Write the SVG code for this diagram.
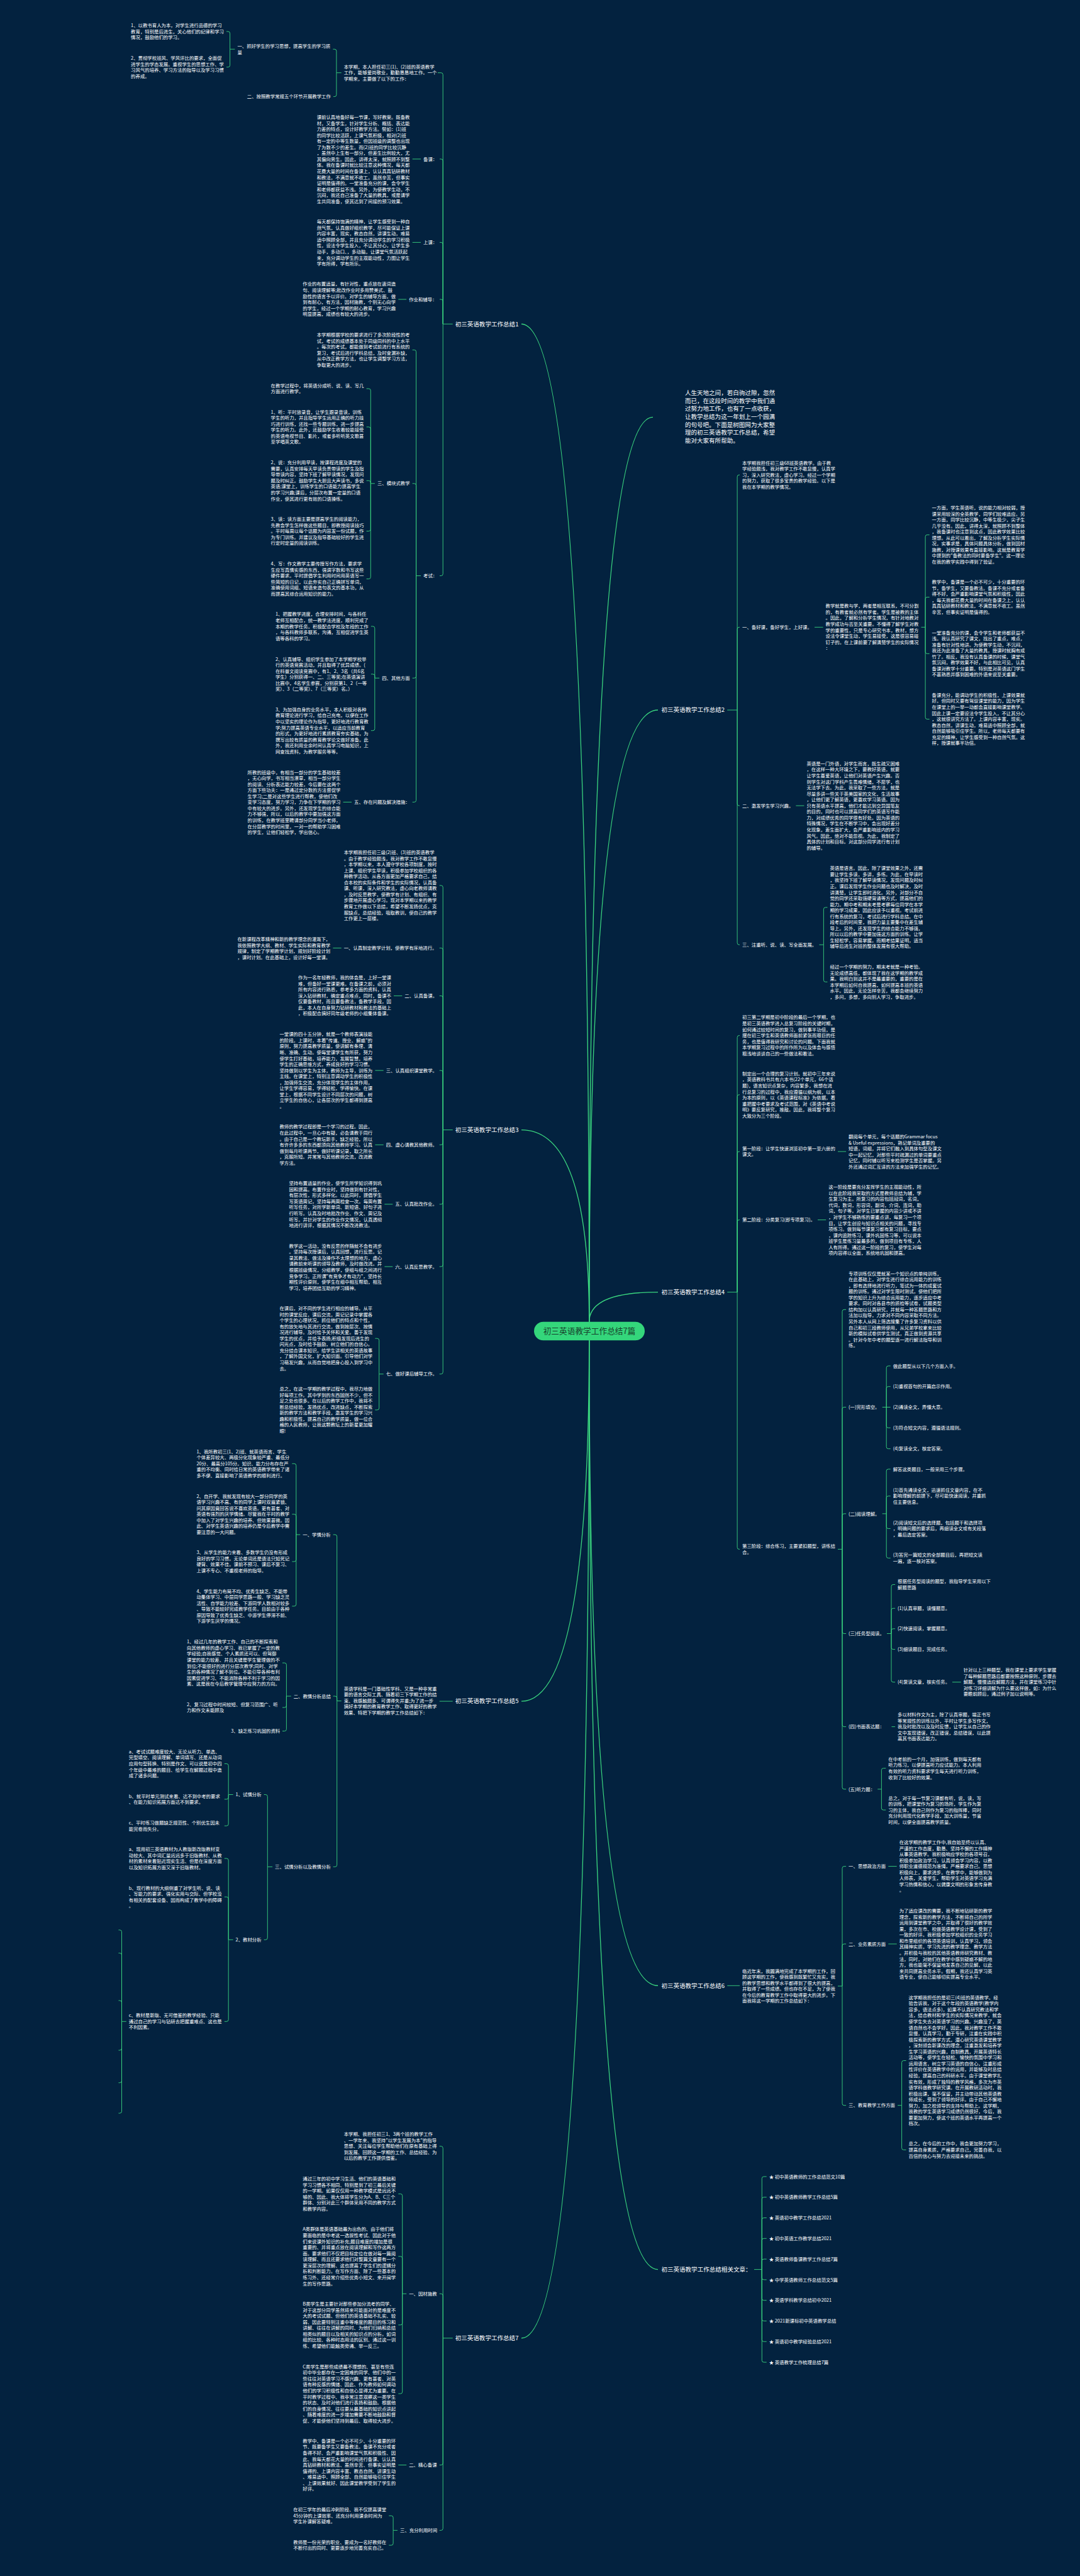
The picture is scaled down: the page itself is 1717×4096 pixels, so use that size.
<svg xmlns="http://www.w3.org/2000/svg" width="1717" height="4096" viewBox="0 0 1717 4096">
<style>
text{font-family:"Noto Sans CJK SC","Noto Sans",sans-serif;fill:#ffffff}
.t{font-size:7.4px}
.l{font-size:9.55px}
.ln{fill:none;stroke:#3ad57f;stroke-width:0.9}
.mn{fill:none;stroke:#3ad57f;stroke-width:1.4}
</style>
<rect x="0" y="0" width="1717" height="4096" fill="#03223f"/>
<g id="connectors">
<g class="mn">
<path d="M936.7 2102Q936.7 515.2 829 515.2"/>
<path d="M936.7 2102Q936.7 1796.6 829 1796.6"/>
<path d="M936.7 2131.3Q936.7 2705.1 829 2705.1"/>
<path d="M936.7 2131.3Q936.7 3717.8 829 3717.8"/>
<path d="M936.7 2102Q936.7 663.4 1038 663.4"/>
<path d="M936.7 2102Q936.7 1129 1046 1129"/>
<path d="M936.7 2102Q936.7 2054.6 1046 2054.6"/>
<path d="M936.7 2131.3Q936.7 3157.3 1046 3157.3"/>
<path d="M936.7 2131.3Q936.7 3608.6 1046 3608.6"/>
</g>
<g class="ln">
<path d="M719.7 515.2H704.2M704.2 515.2V118.7Q704.2 115.7 701.2 115.7H696M704.2 515.2V255.9Q704.2 252.9 701.2 252.9H699M704.2 515.2V388.4Q704.2 385.4 701.2 385.4H699M704.2 515.2V479Q704.2 476 701.2 476H699M704.2 515.2V912.5Q704.2 915.5 701.2 915.5H699"/>
<path d="M542.7 115.7H534.9M534.9 115.7V81.2Q534.9 78.2 531.9 78.2H529.4M534.9 115.7V150.6Q534.9 153.6 531.9 153.6H530"/>
<path d="M373.4 78.2H365.6M365.6 78.2V53.1Q365.6 50.1 362.6 50.1H360.1M365.6 78.2V103.7Q365.6 106.7 362.6 106.7H360.1"/>
<path d="M669 252.9H655.7M669 385.4H655.7M646.2 476H633.3"/>
<path d="M669 915.5H661.6M661.6 915.5V559.4Q661.6 556.4 658.6 556.4H655.7M661.6 915.5V771.8Q661.6 768.8 658.6 768.8H655.7M661.6 915.5V1075.2Q661.6 1078.2 658.6 1078.2H655.7M661.6 915.5V1272.4Q661.6 1275.4 658.6 1275.4H655.7"/>
<path d="M595.9 768.8H589.3M589.3 768.8V621Q589.3 618 586.3 618H582.6M589.3 768.8V681.9Q589.3 678.9 586.3 678.9H582.6M589.3 768.8V767.3Q589.3 764.3 586.3 764.3H582.6M589.3 768.8V841.5Q589.3 844.5 586.3 844.5H582.6M589.3 768.8V917.5Q589.3 920.5 586.3 920.5H582.6"/>
<path d="M603.2 1078.2H595.8M595.8 1078.2V998.9Q595.8 995.9 592.8 995.9H589.9M595.8 1078.2V1074.9Q595.8 1071.9 592.8 1071.9H589.9M595.8 1078.2V1158.7Q595.8 1161.7 592.8 1161.7H589.9"/>
<path d="M559 1275.4H545.6"/>
<path d="M719.7 1796.6H704.2M704.2 1796.6V1410.9Q704.2 1407.9 701.2 1407.9H698.7M704.2 1796.6V1510.4Q704.2 1507.4 701.2 1507.4H698.7M704.2 1796.6V1586.4Q704.2 1583.4 701.2 1583.4H698.7M704.2 1796.6V1705.1Q704.2 1702.1 701.2 1702.1H698.7M704.2 1796.6V1817.3Q704.2 1820.3 701.2 1820.3H698.7M704.2 1796.6V1911.8Q704.2 1914.8 701.2 1914.8H698.7M704.2 1796.6V2011Q704.2 2014 701.2 2014H698.7M704.2 1796.6V2181.8Q704.2 2184.8 701.2 2184.8H698.7"/>
<path d="M542.7 1507.4H529.4M639.3 1583.4H626M609.7 1702.1H596.4M609.7 1820.3H596.4M624.3 1914.8H611.4M624.3 2014H611.4"/>
<path d="M609.7 2184.8H602.7M602.7 2184.8V2131.2Q602.7 2128.2 599.7 2128.2H596.4M602.7 2184.8V2238.9Q602.7 2241.9 599.7 2241.9H596.4"/>
<path d="M719.7 2705.1H698.7"/>
<path d="M542.7 2704.6H535.7M535.7 2704.6V2443.2Q535.7 2440.2 532.7 2440.2H529.7M535.7 2704.6V2700Q535.7 2697 532.7 2697H529.7M535.7 2704.6V2965.3Q535.7 2968.3 532.7 2968.3H529.7"/>
<path d="M477.3 2440.2H470.8M470.8 2440.2V2330.3Q470.8 2327.3 467.8 2327.3H464.4M470.8 2440.2V2410.7Q470.8 2407.7 467.8 2407.7H464.4M470.8 2440.2V2480Q470.8 2483 467.8 2483H464.4M470.8 2440.2V2550.9Q470.8 2553.9 467.8 2553.9H464.4"/>
<path d="M462.7 2697H455.4M455.4 2697V2647.1Q455.4 2644.1 452.4 2644.1H449M455.4 2697V2712Q455.4 2715 452.4 2715H449M455.4 2697V2749.5Q455.4 2752.5 452.4 2752.5H449"/>
<path d="M433.1 2968.3H425.3M425.3 2968.3V2856.5Q425.3 2853.5 422.3 2853.5H419.7M425.3 2968.3V3081.3Q425.3 3084.3 422.3 3084.3H419.7"/>
<path d="M370.6 2853.5H363.2M363.2 2853.5V2807.4Q363.2 2804.4 360.2 2804.4H356.8M363.2 2853.5V2857.9Q363.2 2860.9 360.2 2860.9H356.8M363.2 2853.5V2900.2Q363.2 2903.2 360.2 2903.2H356.8"/>
<path d="M370.6 3084.3H363.2M363.2 3084.3V2958Q363.2 2955 360.2 2955H356.8M363.2 3084.3V3019.2Q363.2 3016.2 360.2 3016.2H356.8M363.2 3084.3V3211.3Q363.2 3214.3 360.2 3214.3H356.8"/>
<path d="M200.8 3214.3H193.5M193.5 3214.3V3071.8Q193.5 3068.8 190.5 3068.8H188.5M193.5 3214.3V3108.5Q193.5 3105.5 190.5 3105.5H188.5M193.5 3214.3V3184Q193.5 3181 190.5 3181H188.5M193.5 3214.3V3257Q193.5 3260 190.5 3260H188.5M193.5 3214.3V3308.7Q193.5 3311.7 190.5 3311.7H188.5M193.5 3214.3V3357.1Q193.5 3360.1 190.5 3360.1H188.5"/>
<path d="M719.7 3717.8H704.2M704.2 3717.8V3415.6Q704.2 3412.6 701.2 3412.6H698.7M704.2 3717.8V3650.2Q704.2 3647.2 701.2 3647.2H698.7M704.2 3717.8V3916.5Q704.2 3919.5 701.2 3919.5H698.7M704.2 3717.8V4020.4Q704.2 4023.4 701.2 4023.4H698.7"/>
<path d="M646.2 3647.2H639.7M639.7 3647.2V3491.4Q639.7 3488.4 636.7 3488.4H633.3M639.7 3647.2V3590.8Q639.7 3587.8 636.7 3587.8H633.3M639.7 3647.2V3693.8Q639.7 3696.8 636.7 3696.8H633.3M639.7 3647.2V3803.1Q639.7 3806.1 636.7 3806.1H633.3"/>
<path d="M646.2 3919.5H633.3"/>
<path d="M632 4023.4H625.1M625.1 4023.4V4003.2Q625.1 4000.2 622.1 4000.2H618.3M625.1 4023.4V4044.1Q625.1 4047.1 622.1 4047.1H618.3"/>
<path d="M1156.2 1129H1172.1M1172.1 1129V758.1Q1172.1 755.1 1175.1 755.1H1176M1172.1 1129V1000.3Q1172.1 997.3 1175.1 997.3H1176M1172.1 1129V1278.1Q1172.1 1281.1 1175.1 1281.1H1176M1172.1 1129V1499.2Q1172.1 1502.2 1175.1 1502.2H1176"/>
<path d="M1295 997.3H1308.5M1265.4 1281.1H1278.4"/>
<path d="M1464.5 997.3H1471.1M1471.1 997.3V853.4Q1471.1 850.4 1474.1 850.4H1477.6M1471.1 997.3V952.5Q1471.1 949.5 1474.1 949.5H1477.6M1471.1 997.3V1036.4Q1471.1 1039.4 1474.1 1039.4H1477.6M1471.1 997.3V1140.5Q1471.1 1143.5 1474.1 1143.5H1477.6"/>
<path d="M1302.4 1502.2H1309.4M1309.4 1502.2V1445.8Q1309.4 1442.8 1312.4 1442.8H1315.4M1309.4 1502.2V1558.3Q1309.4 1561.3 1312.4 1561.3H1315.4"/>
<path d="M1156.2 2054.6H1172.1M1172.1 2054.6V1649.5Q1172.1 1646.5 1175.1 1646.5H1176M1172.1 2054.6V1743.7Q1172.1 1740.7 1175.1 1740.7H1176M1172.1 2054.6V1834Q1172.1 1831 1175.1 1831H1176M1172.1 2054.6V1942.7Q1172.1 1939.7 1175.1 1939.7H1176M1172.1 2054.6V2460.4Q1172.1 2463.4 1175.1 2463.4H1176"/>
<path d="M1332 1831H1345.1M1300 1939.7H1313.2"/>
<path d="M1332 2463.4H1339M1339 2463.4V2085.3Q1339 2082.3 1342 2082.3H1345.1M1339 2463.4V2240.5Q1339 2237.5 1342 2237.5H1345.1M1339 2463.4V2409.9Q1339 2406.9 1342 2406.9H1345.1M1339 2463.4V2594.5Q1339 2597.5 1342 2597.5H1345.1M1339 2463.4V2742.6Q1339 2745.6 1342 2745.6H1345.1M1339 2463.4V2841.9Q1339 2844.9 1342 2844.9H1345.1"/>
<path d="M1402.7 2237.5H1415.7M1409.2 2237.5V2174.9Q1409.2 2171.9 1412.2 2171.9H1415.7M1409.2 2237.5V2207.7Q1409.2 2204.7 1412.2 2204.7H1415.7M1409.2 2237.5V2267.3Q1409.2 2270.3 1412.2 2270.3H1415.7M1409.2 2237.5V2300.6Q1409.2 2303.6 1412.2 2303.6H1415.7"/>
<path d="M1402.7 2406.9H1409.2M1409.2 2406.9V2339Q1409.2 2336 1412.2 2336H1415.7M1409.2 2406.9V2381.8Q1409.2 2378.8 1412.2 2378.8H1415.7M1409.2 2406.9V2427.5Q1409.2 2430.5 1412.2 2430.5H1415.7M1409.2 2406.9V2474.4Q1409.2 2477.4 1412.2 2477.4H1415.7"/>
<path d="M1410 2597.5H1417M1417 2597.5V2522.5Q1417 2519.5 1420 2519.5H1423.1M1417 2597.5V2560.3Q1417 2557.3 1420 2557.3H1423.1M1417 2597.5V2592.8Q1417 2589.8 1420 2589.8H1423.1M1417 2597.5V2619.6Q1417 2622.6 1420 2622.6H1423.1M1417 2597.5V2671.7Q1417 2674.7 1420 2674.7H1423.1"/>
<path d="M1514 2674.7H1527.7M1417.5 2745.6H1423.1"/>
<path d="M1395.3 2844.9H1401.4M1401.4 2844.9V2814.6Q1401.4 2811.6 1404.4 2811.6H1408.3M1401.4 2844.9V2875Q1401.4 2878 1404.4 2878H1408.3"/>
<path d="M1156.2 3157.3H1176"/>
<path d="M1332 3158H1339M1339 3158V2970.6Q1339 2967.6 1342 2967.6H1345.1M1339 3158V3094Q1339 3091 1342 3091H1345.1M1339 3158V3344.7Q1339 3347.7 1342 3347.7H1345.1"/>
<path d="M1412.3 2967.6H1425.7M1412.3 3091H1425.7"/>
<path d="M1427.1 3347.7H1433.6M1433.6 3347.7V3279.5Q1433.6 3276.5 1436.6 3276.5H1440.5M1433.6 3347.7V3415.4Q1433.6 3418.4 1436.6 3418.4H1440.5"/>
<path d="M1199 3608.6H1211.3M1211.3 3608.6V3463.9Q1211.3 3460.9 1214.3 3460.9H1218.7M1211.3 3608.6V3496.7Q1211.3 3493.7 1214.3 3493.7H1218.7M1211.3 3608.6V3529.5Q1211.3 3526.5 1214.3 3526.5H1218.7M1211.3 3608.6V3562.3Q1211.3 3559.3 1214.3 3559.3H1218.7M1211.3 3608.6V3595.1Q1211.3 3592.1 1214.3 3592.1H1218.7M1211.3 3608.6V3621.9Q1211.3 3624.9 1214.3 3624.9H1218.7M1211.3 3608.6V3654.7Q1211.3 3657.7 1214.3 3657.7H1218.7M1211.3 3608.6V3687.5Q1211.3 3690.5 1214.3 3690.5H1218.7M1211.3 3608.6V3720.3Q1211.3 3723.3 1214.3 3723.3H1218.7M1211.3 3608.6V3753.1Q1211.3 3756.1 1214.3 3756.1H1218.7"/>
</g>
</g>

<g id="center">
<rect x="849" y="2101.8" width="176" height="29.5" rx="14.75" fill="#34d67b"/>
<text x="937" y="2121" font-size="12.7" text-anchor="middle" style="fill:#173f2c">初三英语教学工作总结7篇</text>
</g>

<g id="intro">
<text class="l" y="627.8"><tspan x="1088.9">人生天地之间，若白驹过隙，忽然</tspan><tspan x="1088.9" dy="12.7">而已，在这段时间的教学中我们通</tspan><tspan x="1088.9" dy="12.7">过努力地工作，也有了一点收获，</tspan><tspan x="1088.9" dy="12.7">让教学总结为这一年划上一个圆满</tspan><tspan x="1088.9" dy="12.7">的句号吧。下面是树图网为大家整</tspan><tspan x="1088.9" dy="12.7">理的初三英语教学工作总结，希望</tspan><tspan x="1088.9" dy="12.7">能对大家有所帮助。</tspan></text>
</g>

<!-- 总结1 -->
<g id="s1"><text class="l" x="723.7" y="518.5">初三英语教学工作总结1</text></g>
<g id="s1-c1"><text class="t" y="108.8"><tspan x="546.7">本学期，本人担任初三(1)、(2)班的英语教学</tspan><tspan x="546.7" dy="9.55">工作，能够爱岗敬业，勤勤恳恳地工作。一个</tspan><tspan x="546.7" dy="9.55">学期来，主要做了以下的工作：</tspan></text></g>
<g id="s1-b1"><text class="t" y="76"><tspan x="377.4">一、抓好学生的学习思想，提高学生的学习质</tspan><tspan x="377.4" dy="9.55">量</tspan></text></g>
<g id="s1-b2"><text class="t" x="392.8" y="156.2">二、按照教学常规五个环节开展教学工作</text></g>
<g id="s1-a1"><text class="t" y="43.2"><tspan x="208.1">1、以教书育人为本，对学生进行品德的学习</tspan><tspan x="208.1" dy="9.55">教育，特别是后进生，关心他们的纪律和学习</tspan><tspan x="208.1" dy="9.55">情况，鼓励他们的学习。</tspan></text></g>
<g id="s1-a2"><text class="t" y="95"><tspan x="208.1">2、贯彻学校班风、学风评比的要求，全面促</tspan><tspan x="208.1" dy="9.55">进学生的学态发展。重视学生的思想工作、学</tspan><tspan x="208.1" dy="9.55">习风气的培养、学习方法的指导以及学习习惯</tspan><tspan x="208.1" dy="9.55">的养成。</tspan></text></g>
<g id="s1-bk"><text class="t" x="673" y="255.5">备课：</text></g>
<g id="s1-bkp"><text class="t" y="189"><tspan x="503.7">课前认真地备好每一节课，写好教案。既备教</tspan><tspan x="503.7" dy="9.55">材，又备学生，针对学生分析、概括、表达能</tspan><tspan x="503.7" dy="9.55">力差的特点，设计好教学方法。譬如：(1)班</tspan><tspan x="503.7" dy="9.55">的同学比较活跃，上课气氛积极，相对(2)班</tspan><tspan x="503.7" dy="9.55">有一定的中等生数量，但因班级的调整也出现</tspan><tspan x="503.7" dy="9.55">了为数不少的差生。而(2)班的同学比较沉静</tspan><tspan x="503.7" dy="9.55">，虽然中上生有一部分，但差生比例较大，尤</tspan><tspan x="503.7" dy="9.55">其偏向男生。因此，讲得太深，就照顾不到整</tspan><tspan x="503.7" dy="9.55">体。我在备课时就比较注意这种情况，每天都</tspan><tspan x="503.7" dy="9.55">花费大量的时间在备课上，认认真真钻研教材</tspan><tspan x="503.7" dy="9.55">和教法，不满意就不收工。虽然辛苦，但事实</tspan><tspan x="503.7" dy="9.55">证明是值得的。一堂准备充分的课，会令学生</tspan><tspan x="503.7" dy="9.55">和老师都获益不浅。另外，为使教学生动，不</tspan><tspan x="503.7" dy="9.55">沉闷，我还自己准备了大量的教具，或是请学</tspan><tspan x="503.7" dy="9.55">生共同准备，使其达到了间接的预习效果。</tspan></text></g>
<g id="s1-sk"><text class="t" x="673" y="388">上课：</text></g>
<g id="s1-skp"><text class="t" y="355.2"><tspan x="503.7">每天都保持饱满的精神，让学生感受到一种自</tspan><tspan x="503.7" dy="9.55">然气氛，认真做好组织教学，尽可能保证上课</tspan><tspan x="503.7" dy="9.55">内容丰富，现实，教态自然，讲课生动，难易</tspan><tspan x="503.7" dy="9.55">适中照顾全部，并且充分调动学生的学习积极</tspan><tspan x="503.7" dy="9.55">性，设法令学生投入，不让其分心，让学生多</tspan><tspan x="503.7" dy="9.55">动手，多动口、，多动脑，让课堂气氛活跃起</tspan><tspan x="503.7" dy="9.55">来，充分调动学生的主观能动性，力图让学生</tspan><tspan x="503.7" dy="9.55">学有所得，学有所乐。</tspan></text></g>
<g id="s1-zy"><text class="t" x="650.2" y="478.6">作业和辅导：</text></g>
<g id="s1-zyp"><text class="t" y="454.4"><tspan x="481.3">作业的布置适量，有针对性，重点放在遣词造</tspan><tspan x="481.3" dy="9.55">句、阅读理解等;批改作业时多用赞美式、鼓</tspan><tspan x="481.3" dy="9.55">励性的语言予以评价。对学生的辅导方面，做</tspan><tspan x="481.3" dy="9.55">到有耐心，有方法，因材施教，个别无心向学</tspan><tspan x="481.3" dy="9.55">的学生，经过一个学期的耐心教育，学习兴趣</tspan><tspan x="481.3" dy="9.55">明显提高，成绩也有较大的进步。</tspan></text></g>
<g id="s1-ks"><text class="t" x="673" y="918.1">考试：</text></g>
<g id="s1-k1"><text class="t" y="535.1"><tspan x="503.7">本学期根据学校的要求进行了多次阶段性的考</tspan><tspan x="503.7" dy="9.55">试，考试的成绩基本处于同级同科的中上水平</tspan><tspan x="503.7" dy="9.55">。每次的考试，都能做到考试前进行有系统的</tspan><tspan x="503.7" dy="9.55">复习，考试后进行学科总结，及时查漏补缺，</tspan><tspan x="503.7" dy="9.55">从中改正教学方法，也让学生调整学习方法，</tspan><tspan x="503.7" dy="9.55">争取更大的进步。</tspan></text></g>
<g id="s1-k2"><text class="t" x="599.9" y="771.4">三、模块式教学</text></g>
<g id="s1-m0"><text class="t" y="615.8"><tspan x="430.6">在教学过程中，将英语分成听、说、读、写几</tspan><tspan x="430.6" dy="9.55">方面进行教学。</tspan></text></g>
<g id="s1-m1"><text class="t" y="657.6"><tspan x="430.6">1、听：平时放录音，让学生跟录音读，训练</tspan><tspan x="430.6" dy="9.55">学生的听力，并且指导学生运用正确的听力技</tspan><tspan x="430.6" dy="9.55">巧进行训练，还找一些专题训练，进一步提高</tspan><tspan x="430.6" dy="9.55">学生的听力。此外，还鼓励学生收看较能接受</tspan><tspan x="430.6" dy="9.55">的英语电视节目、影片，或者多听听英文歌甚</tspan><tspan x="430.6" dy="9.55">至学唱英文歌。</tspan></text></g>
<g id="s1-m2"><text class="t" y="738.2"><tspan x="430.6">2、说：充分利用早读，按课程进度及课堂的</tspan><tspan x="430.6" dy="9.55">需要，认真安排每天早读负责带读的学生及指</tspan><tspan x="430.6" dy="9.55">导带读内容，坚持下班了解早读情况，发现问</tspan><tspan x="430.6" dy="9.55">题及时纠正。鼓励学生大胆且大声读书，多说</tspan><tspan x="430.6" dy="9.55">英语;课堂上，训练学生的口语能力提高学生</tspan><tspan x="430.6" dy="9.55">的学习兴趣;课后，分层次布置一定量的口语</tspan><tspan x="430.6" dy="9.55">作业，使其进行更有效的口语操练。</tspan></text></g>
<g id="s1-m3"><text class="t" y="828"><tspan x="430.6">3、读：读方面主要是提高学生的阅读能力，</tspan><tspan x="430.6" dy="9.55">先教会学生怎样做这些题目，即教授阅读技巧</tspan><tspan x="430.6" dy="9.55">。平时每周以每个话题为内容发一份试题，作</tspan><tspan x="430.6" dy="9.55">为专门训练。并建议及指导基础较好的学生进</tspan><tspan x="430.6" dy="9.55">行定时定量的阅读训练。</tspan></text></g>
<g id="s1-m4"><text class="t" y="899.2"><tspan x="430.6">4、写：作文教学主要传授写作方法，要求学</tspan><tspan x="430.6" dy="9.55">生应写真情实感的东西，强调字数和书写这些</tspan><tspan x="430.6" dy="9.55">硬件要求。平时提倡学生利用时间用英语写一</tspan><tspan x="430.6" dy="9.55">些简短的日记，以此夯实自己正确拼写单词，</tspan><tspan x="430.6" dy="9.55">准确使用词组、短语来造句表文的基本功，从</tspan><tspan x="430.6" dy="9.55">而提高其综合运用知识的能力。</tspan></text></g>
<g id="s1-k3"><text class="t" x="607.2" y="1080.8">四、其他方面</text></g>
<g id="s1-o1"><text class="t" y="979.4"><tspan x="437.9">1、把握教学进度，合理安排时间，与各科任</tspan><tspan x="437.9" dy="9.55">老师互相配合，统一教学法进度，顺利完成了</tspan><tspan x="437.9" dy="9.55">本期的教学任务。积极配合学校及年段的工作</tspan><tspan x="437.9" dy="9.55">，与各科教师多联系，沟通，互相促进学生英</tspan><tspan x="437.9" dy="9.55">语等各科的学习。</tspan></text></g>
<g id="s1-o2"><text class="t" y="1050.6"><tspan x="437.9">2、认真辅导、组织学生参加了本学期学校举</tspan><tspan x="437.9" dy="9.55">行的英语竞赛活动，并且取得了优异成绩。(</tspan><tspan x="437.9" dy="9.55">在科普文阅读竞赛中，有1、2、3名（共6名</tspan><tspan x="437.9" dy="9.55">学生）分别获得一、二、三等奖;在英语演讲</tspan><tspan x="437.9" dy="9.55">比赛中，4名学生参赛，分别获第1、2（一等</tspan><tspan x="437.9" dy="9.55">奖）、3（二等奖）、7（三等奖）名。）</tspan></text></g>
<g id="s1-o3"><text class="t" y="1130.9"><tspan x="437.9">3、为加强自身的业务水平，本人积极对各种</tspan><tspan x="437.9" dy="9.55">教育理论进行学习，给自己充电，以便在工作</tspan><tspan x="437.9" dy="9.55">中以坚实的理论作为指导，更好地进行教育教</tspan><tspan x="437.9" dy="9.55">学;努力提高英语专业水平，以适应当前教育</tspan><tspan x="437.9" dy="9.55">的形式，为更好地进行素质教育夯实基础，为</tspan><tspan x="437.9" dy="9.55">撰写出较有质量的教育教学论文做好准备。此</tspan><tspan x="437.9" dy="9.55">外，我还利用业余时间认真学习电脑知识，上</tspan><tspan x="437.9" dy="9.55">网查找资料，为教学服务等等。</tspan></text></g>
<g id="s1-k4"><text class="t" x="563" y="1278">五、存在问题及解决措施：</text></g>
<g id="s1-w1"><text class="t" y="1230.6"><tspan x="393.6">所教的班级中，有相当一部分的学生基础较差</tspan><tspan x="393.6" dy="9.55">，无心向学，书写相当潦草，相当一部分学生</tspan><tspan x="393.6" dy="9.55">的阅读、分析表达能力较差，今后要在这两个</tspan><tspan x="393.6" dy="9.55">方面下些功夫：一是通过定分数的方法督促学</tspan><tspan x="393.6" dy="9.55">生学习;二是对这些学生进行帮教，使他们改</tspan><tspan x="393.6" dy="9.55">变学习态度，努力学习，力争在下学期的学习</tspan><tspan x="393.6" dy="9.55">中有较大的进步。另外，还发现学生的综合能</tspan><tspan x="393.6" dy="9.55">力不够强，所以，以后的教学中要加强这方面</tspan><tspan x="393.6" dy="9.55">的训练，在教学班里聘请部分同学当小老师，</tspan><tspan x="393.6" dy="9.55">在分层教学的时间里，一对一的帮助学习困难</tspan><tspan x="393.6" dy="9.55">的学生，让他们轻松学，学出信心。</tspan></text></g>

<!-- 总结3 -->
<g id="s3"><text class="l" x="723.7" y="1799.9">初三英语教学工作总结3</text></g>
<g id="s3-0"><text class="t" y="1358"><tspan x="546.7">本学期我担任初三级(2)班、(3)班的英语教学</tspan><tspan x="546.7" dy="9.55">。由于教学经验颇浅，我对教学工作不敢怠慢</tspan><tspan x="546.7" dy="9.55">，本学期以来，本人遵守学校各项制度，按时</tspan><tspan x="546.7" dy="9.55">上课、组织学生早读，积极参加学校组织的各</tspan><tspan x="546.7" dy="9.55">种教学活动。从各方面更加严格要求自己，结</tspan><tspan x="546.7" dy="9.55">合本校的实际条件和学生的实际情况，认真备</tspan><tspan x="546.7" dy="9.55">课、听课，深入研究教法，虚心向老教师请教</tspan><tspan x="546.7" dy="9.55">，及时反思教学，使教学有计划、有组织、有</tspan><tspan x="546.7" dy="9.55">步骤地开展虚心学习。现对本学期以来的教学</tspan><tspan x="546.7" dy="9.55">教育工作做以下总结，希望不断发扬优点，克</tspan><tspan x="546.7" dy="9.55">服缺点，总结经验，吸取教训，使自己的教学</tspan><tspan x="546.7" dy="9.55">工作更上一层楼。</tspan></text></g>
<g id="s3-1"><text class="t" x="546.7" y="1510">一、认真制定教学计划，使教学有序地进行。</text></g>
<g id="s3-1p"><text class="t" y="1496.2"><tspan x="377.4">在新课程改革精神和新的教学理念的灌溉下，</tspan><tspan x="377.4" dy="9.55">我依照教学大纲、教材、学生实际和教育教学</tspan><tspan x="377.4" dy="9.55">规律，制定了学期教学计划，规划好阶段计划</tspan><tspan x="377.4" dy="9.55">，课时计划。在此基础上，设计好每一堂课。</tspan></text></g>
<g id="s3-2"><text class="t" x="643.3" y="1586">二、认真备课。</text></g>
<g id="s3-2p"><text class="t" y="1557.1"><tspan x="474">作为一名年轻教师，我的体会是，上好一堂课</tspan><tspan x="474" dy="9.55">难，但备好一堂课更难。在备课之前，必须对</tspan><tspan x="474" dy="9.55">所有内容进行熟悉，参考多方面的资料，认真</tspan><tspan x="474" dy="9.55">深入钻研教材，确定重点难点，同时，备课不</tspan><tspan x="474" dy="9.55">仅要备教材，而且要备教法，备教学手段，因</tspan><tspan x="474" dy="9.55">此，本人在自身努力钻研教材和教法的基础上</tspan><tspan x="474" dy="9.55">，积极配合搞好同年级老师的小组集体备课。</tspan></text></g>
<g id="s3-3"><text class="t" x="613.7" y="1704.7">三、认真组织课堂教学。</text></g>
<g id="s3-3p"><text class="t" y="1647.3"><tspan x="444.4">一堂课的四十五分钟，就是一个教师表演技能</tspan><tspan x="444.4" dy="9.55">的阶段。上课时，本着"传道、授业、解惑"的</tspan><tspan x="444.4" dy="9.55">原则，努力提高教学质量，使讲解有条理、清</tspan><tspan x="444.4" dy="9.55">晰、准确、生动。使每堂课学生有所获，努力</tspan><tspan x="444.4" dy="9.55">使学生打好基础，培养能力，发展智慧，培养</tspan><tspan x="444.4" dy="9.55">学生的正确思维方式，养成良好的学习习惯。</tspan><tspan x="444.4" dy="9.55">坚持做到以学生为主体，教师为主导，训练为</tspan><tspan x="444.4" dy="9.55">主线。在课堂上，特别注意调动学生的积极性</tspan><tspan x="444.4" dy="9.55">，加强师生交流，充分体现学生的主体作用，</tspan><tspan x="444.4" dy="9.55">让学生学得容易，学得轻松，学得愉快。在课</tspan><tspan x="444.4" dy="9.55">堂上，根据不同学生设计不同层次的问题，树</tspan><tspan x="444.4" dy="9.55">立学生的自信心，让各层次的学生都得到提高</tspan><tspan x="444.4" dy="9.55">。</tspan></text></g>
<g id="s3-4"><text class="t" x="613.7" y="1822.9">四、虚心请教其他教师。</text></g>
<g id="s3-4p"><text class="t" y="1794.4"><tspan x="444.4">教师的教学过程即是一个学习的过程。因此，</tspan><tspan x="444.4" dy="9.55">在此过程中，一旦心中有疑，必会请教于同行</tspan><tspan x="444.4" dy="9.55">。由于自己是一个教坛新手，缺乏经验，所以</tspan><tspan x="444.4" dy="9.55">有许许多多的东西都须向其他教师学习。认真</tspan><tspan x="444.4" dy="9.55">做到每月听课两节，做好听课记录，取之所长</tspan><tspan x="444.4" dy="9.55">，克服所短。并常常与其他教师交流，改进教</tspan><tspan x="444.4" dy="9.55">学方法。</tspan></text></g>
<g id="s3-5"><text class="t" x="628.3" y="1917.4">五、认真批改作业。</text></g>
<g id="s3-5p"><text class="t" y="1884.2"><tspan x="459.4">坚持布置适量的作业，使学生所学知识得到巩</tspan><tspan x="459.4" dy="9.55">固和提高。布置作业时，坚持做到有针对性，</tspan><tspan x="459.4" dy="9.55">有层次性，形式多样化。以此同时，提倡学生</tspan><tspan x="459.4" dy="9.55">写英语周记，坚持每两周检查一次。每周布置</tspan><tspan x="459.4" dy="9.55">听写任务，对所学新单词、新短语、好句子进</tspan><tspan x="459.4" dy="9.55">行听写。认真及时地批改作业、作文、周记及</tspan><tspan x="459.4" dy="9.55">听写。并针对学生的作业作文情况，认真透彻</tspan><tspan x="459.4" dy="9.55">地进行讲评，根据其情况不断改进教法。</tspan></text></g>
<g id="s3-6"><text class="t" x="628.3" y="2016.6">六、认真反思教学。</text></g>
<g id="s3-6p"><text class="t" y="1983.8"><tspan x="459.4">教学这一活动，没有反思的伴随就不会有进步</tspan><tspan x="459.4" dy="9.55">。坚持每次授课后，认真回想，进行反思。记</tspan><tspan x="459.4" dy="9.55">录其教法、做法及操作不太理想的地方，虚心</tspan><tspan x="459.4" dy="9.55">请教前来听课的领导及教师，及时做改进。并</tspan><tspan x="459.4" dy="9.55">根据班级情况，分组教学，使组与组之间进行</tspan><tspan x="459.4" dy="9.55">竞争学习。正所谓"有竞争才有动力"，坚持长</tspan><tspan x="459.4" dy="9.55">期性评价原则，使学生在组中相互帮助，相互</tspan><tspan x="459.4" dy="9.55">学习，培养团结互助的学习精神。</tspan></text></g>
<g id="s3-7"><text class="t" x="613.7" y="2187.4">七、做好课后辅导工作。</text></g>
<g id="s3-7a"><text class="t" y="2083"><tspan x="444.4">在课后，对不同的学生进行相应的辅导。从平</tspan><tspan x="444.4" dy="9.55">时的课堂反应，课后交流，周记记录中掌握各</tspan><tspan x="444.4" dy="9.55">个学生的心理状况，抓住他们的特点和个性，</tspan><tspan x="444.4" dy="9.55">有的放矢地与其进行交流，做到按层次、按情</tspan><tspan x="444.4" dy="9.55">况进行辅导。及时给予关怀和关爱。善于发现</tspan><tspan x="444.4" dy="9.55">学生的优点，并给予表扬;积极发现后进生的</tspan><tspan x="444.4" dy="9.55">闪光点，及时给予鼓励，树立他们的自信心。</tspan><tspan x="444.4" dy="9.55">充分结合课本知识，给学生讲相关的英语故事</tspan><tspan x="444.4" dy="9.55">，了解外国文化，扩大知识面。引导他们对学</tspan><tspan x="444.4" dy="9.55">习萌发兴趣，从而自觉地把身心投入到学习中</tspan><tspan x="444.4" dy="9.55">去。</tspan></text></g>
<g id="s3-7b"><text class="t" y="2211.1"><tspan x="444.4">总之，在这一学期的教学过程中，我尽力地做</tspan><tspan x="444.4" dy="9.55">好每项工作。其中学到的东西固然不少，但不</tspan><tspan x="444.4" dy="9.55">足之处也很多。在以后的教学工作中，我将不</tspan><tspan x="444.4" dy="9.55">断总结经验，发扬优点，改进缺点，不断探索</tspan><tspan x="444.4" dy="9.55">新的教学方法和教学手段，激发学生的学习兴</tspan><tspan x="444.4" dy="9.55">趣和积极性，提高自己的教学质量，做一位合</tspan><tspan x="444.4" dy="9.55">格的人民教师，让我这颗教坛上的新星更加耀</tspan><tspan x="444.4" dy="9.55">眼!</tspan></text></g>

<!-- 总结5 -->
<g id="s5"><text class="l" x="723.7" y="2708.4">初三英语教学工作总结5</text></g>
<g id="s5-p"><text class="t" y="2687.6"><tspan x="546.7">英语学科是一门基础性学科、又是一种非常重</tspan><tspan x="546.7" dy="9.55">要的语言交际工具、随着初三下学期工作的结</tspan><tspan x="546.7" dy="9.55">束、我感触颇多、可谓得失并重;为了进一步</tspan><tspan x="546.7" dy="9.55">搞好本学期的教育教学工作、取得更好的教学</tspan><tspan x="546.7" dy="9.55">效果、特把下学期的教学工作总结如下：</tspan></text></g>
<g id="s5-x1"><text class="t" x="481.3" y="2442.8">一、学情分析</text></g>
<g id="s5-x1a"><text class="t" y="2310.8"><tspan x="312.4">1、我所教初三(1、2)班、就英语而言、学生</tspan><tspan x="312.4" dy="9.55">个体差异较大、两极分化现象较严重、最低分</tspan><tspan x="312.4" dy="9.55">20分、最高分105分。知识、能力分布存在严</tspan><tspan x="312.4" dy="9.55">重的不均衡、同时给日常的英语教学带来了诸</tspan><tspan x="312.4" dy="9.55">多不便、直接影响了英语教学的顺利进行。</tspan></text></g>
<g id="s5-x1b"><text class="t" y="2381.6"><tspan x="312.4">2、自开学、我就发现有较大一部分同学的英</tspan><tspan x="312.4" dy="9.55">语学习兴趣不高、有的同学上课时双眉紧锁、</tspan><tspan x="312.4" dy="9.55">问其原因竟回答说不喜欢英语。更有甚者、对</tspan><tspan x="312.4" dy="9.55">英语有强烈的厌学情绪。尽管我在平时的教学</tspan><tspan x="312.4" dy="9.55">中加入了对学生兴趣的培养、但效果甚微。因</tspan><tspan x="312.4" dy="9.55">此、对学生英语兴趣的培养仍是今后教学中需</tspan><tspan x="312.4" dy="9.55">要注意的一大问题。</tspan></text></g>
<g id="s5-x1c"><text class="t" y="2471.3"><tspan x="312.4">3、从学生的能力来看、多数学生仍没有形成</tspan><tspan x="312.4" dy="9.55">良好的学习习惯。无论单词还是语法只知死记</tspan><tspan x="312.4" dy="9.55">硬背、效果不佳。课前不预习、课后不复习、</tspan><tspan x="312.4" dy="9.55">上课不专心、不重视老师的指导。</tspan></text></g>
<g id="s5-x1d"><text class="t" y="2532.6"><tspan x="312.4">4、学生能力布局不均、优秀生缺乏、不能带</tspan><tspan x="312.4" dy="9.55">动集体学习、中层同学思路一般、学习缺乏灵</tspan><tspan x="312.4" dy="9.55">活性、自学能力较差、下游同学人数相对较多</tspan><tspan x="312.4" dy="9.55">、导致不能较好完成教学任务。目前由于各种</tspan><tspan x="312.4" dy="9.55">原因导致了优秀生缺乏、中游学生停滞不前、</tspan><tspan x="312.4" dy="9.55">下游学生厌学的情况。</tspan></text></g>
<g id="s5-x2"><text class="t" x="466.7" y="2699.6">二、教情分析总结</text></g>
<g id="s5-x2a"><text class="t" y="2613.3"><tspan x="297">1、经过几年的教学工作、自己的不断探索和</tspan><tspan x="297" dy="9.55">向其他教师的虚心学习、我已掌握了一定的教</tspan><tspan x="297" dy="9.55">学经验;自我感觉、个人素质还可以、但驾御</tspan><tspan x="297" dy="9.55">课堂的能力较差、并且关键是学生管理做的不</tspan><tspan x="297" dy="9.55">到位;不能很好的进行分层次教学;同时、对学</tspan><tspan x="297" dy="9.55">生的各种情况了解不到位。不能引导各种有利</tspan><tspan x="297" dy="9.55">因素促进学习、不能消除各种不利于学习的因</tspan><tspan x="297" dy="9.55">素、这是我在今后教学管理中应努力的方向。</tspan></text></g>
<g id="s5-x2b"><text class="t" y="2712.8"><tspan x="297">2、复习过程中时间较短、但复习范围广、听</tspan><tspan x="297" dy="9.55">力和作文未能顾及</tspan></text></g>
<g id="s5-x2c"><text class="t" x="367.2" y="2755.1">3、缺乏练习巩固的资料</text></g>
<g id="s5-x3"><text class="t" x="437.1" y="2970.9">三、试情分析以及教情分析</text></g>
<g id="s5-y1"><text class="t" x="374.6" y="2856.1">1、试情分析</text></g>
<g id="s5-y1a"><text class="t" y="2787.9"><tspan x="204.8">a、考试试题难度较大、无论从听力、单选、</tspan><tspan x="204.8" dy="9.55">完型填空、阅读理解、单词填写、还是从动词</tspan><tspan x="204.8" dy="9.55">应用句型转换、特别是作文、可以说是初中四</tspan><tspan x="204.8" dy="9.55">个年级中最难的题目、给学生在解题过程中造</tspan><tspan x="204.8" dy="9.55">成了诸多问题。</tspan></text></g>
<g id="s5-y1b"><text class="t" y="2858.7"><tspan x="204.8">b、就平时单元测试来看、达不到中考的要求</tspan><tspan x="204.8" dy="9.55">、在能力知识拓展方面达不到要求。</tspan></text></g>
<g id="s5-y1c"><text class="t" y="2901"><tspan x="204.8">c、平时练习做题缺乏规范性、个别优生因未</tspan><tspan x="204.8" dy="9.55">能完卷而失分。</tspan></text></g>
<g id="s5-y2"><text class="t" x="374.6" y="3086.9">2、教材分析</text></g>
<g id="s5-y2a"><text class="t" y="2943.3"><tspan x="204.8">a、现用初三英语教材为人教版新改版教材变</tspan><tspan x="204.8" dy="9.55">动较大、其中词汇量远远多于旧版教材、从教</tspan><tspan x="204.8" dy="9.55">材的素材来看贴近现实生活、但是在深度方面</tspan><tspan x="204.8" dy="9.55">以及知识拓展方面又深于旧版教材。</tspan></text></g>
<g id="s5-y2b"><text class="t" y="3004.5"><tspan x="204.8">b、现行教材的大纲侧重了对学生听、说、读</tspan><tspan x="204.8" dy="9.55">、写能力的要求、强化实用与交际、但学校没</tspan><tspan x="204.8" dy="9.55">有相关的配套设备、因而构成了教学中的障碍</tspan><tspan x="204.8" dy="9.55">。</tspan></text></g>
<g id="s5-y2c"><text class="t" y="3207.3"><tspan x="204.8">c、教材是新版、无可借鉴的教学经验、只能</tspan><tspan x="204.8" dy="9.55">通过自己的学习与钻研去把握重难点、这也是</tspan><tspan x="204.8" dy="9.55">不利因素。</tspan></text></g>

<!-- 总结7 -->
<g id="s7"><text class="l" x="723.7" y="3721.1">初三英语教学工作总结7</text></g>
<g id="s7-0"><text class="t" y="3396"><tspan x="546.7">本学期、我担任初三1、3两个班的教学工作</tspan><tspan x="546.7" dy="9.58">、一学年来、我坚持"以学生发展为本"的指导</tspan><tspan x="546.7" dy="9.58">思想、关注每位学生帮助他们在原有基础上得</tspan><tspan x="546.7" dy="9.58">到发展、回顾这一学期的工作、总结经验、为</tspan><tspan x="546.7" dy="9.58">以后的教学工作提供借鉴。</tspan></text></g>
<g id="s7-1"><text class="t" x="650.2" y="3649.8">一、因材施教</text></g>
<g id="s7-1a"><text class="t" y="3467.1"><tspan x="481.3">通过三年的初中学习生活、他们的英语基础和</tspan><tspan x="481.3" dy="9.58">学习习惯各不相同、特别是到了初三最后关键</tspan><tspan x="481.3" dy="9.58">的一学期。如果仅仅用一种教学模式是远远不</tspan><tspan x="481.3" dy="9.58">够的、因此、我大体将学生分为A、B、C三个</tspan><tspan x="481.3" dy="9.58">群体、分别对此三个群体采用不同的教学方式</tspan><tspan x="481.3" dy="9.58">和教学内容。</tspan></text></g>
<g id="s7-1b"><text class="t" y="3547.4"><tspan x="481.3">A类群体是英语基础最为出色的、由于他们将</tspan><tspan x="481.3" dy="9.58">要面临的是中考这一选拔性考试、因此对于他</tspan><tspan x="481.3" dy="9.58">们来说课外知识的补充;题目难度的增加是很</tspan><tspan x="481.3" dy="9.58">重要的、并将重点放在阅读理解和写作这两方</tspan><tspan x="481.3" dy="9.58">面。要求他们不仅把目标定位在做对每一篇阅</tspan><tspan x="481.3" dy="9.58">读理解、而且还要求他们对整篇文章要有一个</tspan><tspan x="481.3" dy="9.58">更深层次的理解、这也提高了学生们的逻辑分</tspan><tspan x="481.3" dy="9.58">析和判断能力。在写作方面、除了一些基本的</tspan><tspan x="481.3" dy="9.58">练习外、还经常介绍些优秀小短文、来开阔学</tspan><tspan x="481.3" dy="9.58">生的写作思路。</tspan></text></g>
<g id="s7-1c"><text class="t" y="3666"><tspan x="481.3">B类学生是主要针对那些参加分流考的同学、</tspan><tspan x="481.3" dy="9.58">对于这部分同学虽然将来可能面对的是难度不</tspan><tspan x="481.3" dy="9.58">大的考试试题、但他们的英语基础不扎实、较</tspan><tspan x="481.3" dy="9.58">弱、因此要特别注重中等难度的题目的练习和</tspan><tspan x="481.3" dy="9.58">讲解、往往在讲解的同时、为他们归纳和总结</tspan><tspan x="481.3" dy="9.58">相类似的题目以及相关的知识点的分析。如词</tspan><tspan x="481.3" dy="9.58">组的比较、各种时态用法的区别、通过这一训</tspan><tspan x="481.3" dy="9.58">练、希望他们能触类旁通、举一反三。</tspan></text></g>
<g id="s7-1d"><text class="t" y="3765.7"><tspan x="481.3">C类学生是那些成绩最不理想的、甚至有些连</tspan><tspan x="481.3" dy="9.58">初中毕业都存在一定困难的同学、他们中的一</tspan><tspan x="481.3" dy="9.58">些往往对英语学习不感兴趣、更有甚者、对英</tspan><tspan x="481.3" dy="9.58">语有种反感的情绪、因此、作为教师如何调动</tspan><tspan x="481.3" dy="9.58">他们的学习积极性和自信心显得尤为重要。在</tspan><tspan x="481.3" dy="9.58">平时教学过程中、我非常注意观察这一类学生</tspan><tspan x="481.3" dy="9.58">的状态、及时对他们进行表扬和鼓励。根据他</tspan><tspan x="481.3" dy="9.58">们的自身情况、往往要从最基础的知识点讲起</tspan><tspan x="481.3" dy="9.58">、随着难度的进一步增加需要不断地鼓励和督</tspan><tspan x="481.3" dy="9.58">促、才能使他们坚持到最后、取得较大进步。</tspan></text></g>
<g id="s7-2"><text class="t" x="650.2" y="3922.1">二、精心备课</text></g>
<g id="s7-2p"><text class="t" y="3883.8"><tspan x="481.3">教学中、备课是一个必不可少、十分重要的环</tspan><tspan x="481.3" dy="9.58">节、既要备学生又要备教法。备课不充分或者</tspan><tspan x="481.3" dy="9.58">备得不好、会严重影响课堂气氛和积极性、因</tspan><tspan x="481.3" dy="9.58">此、我每天都花大量的时间进行备课、认认真</tspan><tspan x="481.3" dy="9.58">真钻研教材和教法、虽然辛苦、但事实证明是</tspan><tspan x="481.3" dy="9.58">值得的、上课内容丰富、教态自然、讲课生动</tspan><tspan x="481.3" dy="9.58">、难易适中、照顾全部、自然能够吸引住学生</tspan><tspan x="481.3" dy="9.58">、上课效果就好、因此课堂教学受到了学生的</tspan><tspan x="481.3" dy="9.58">好评。</tspan></text></g>
<g id="s7-3"><text class="t" x="636" y="4026">三、充分利用时间</text></g>
<g id="s7-3a"><text class="t" y="3993.2"><tspan x="466.3">在初三学年的最后冲刺阶段、我不仅提高课堂</tspan><tspan x="466.3" dy="9.58">45分钟的上课效率、还充分利用课余时间为</tspan><tspan x="466.3" dy="9.58">学生补课解答疑难。</tspan></text></g>
<g id="s7-3b"><text class="t" y="4044.9"><tspan x="466.3">教师是一份光荣的职业、要成为一名好教师在</tspan><tspan x="466.3" dy="9.58">不断付出的同时、更要逐步地完善充实自己。</tspan></text></g>

<!-- 总结2 -->
<g id="s2"><text class="l" x="1051.4" y="1132.3">初三英语教学工作总结2</text></g>
<g id="s2-0"><text class="t" y="738.6"><tspan x="1180">本学期我担任初三级68班英语教学。由于教</tspan><tspan x="1180" dy="9.55">学经验颇浅，我对教学工作不敢怠慢，认真学</tspan><tspan x="1180" dy="9.55">习，深入研究教法，虚心学习。经过一个学期</tspan><tspan x="1180" dy="9.55">的努力，获取了很多宝贵的教学经验。以下是</tspan><tspan x="1180" dy="9.55">我在本学期的教学情况。</tspan></text></g>
<g id="s2-1"><text class="t" x="1180" y="999.9">一、备好课，备好学生，上好课。</text></g>
<g id="s2-1p"><text class="t" y="966.3"><tspan x="1312.5">教学就是教与学，两者是相互联系，不可分割</tspan><tspan x="1312.5" dy="9.55">的，有教者就必然有学者。学生是被教的主体</tspan><tspan x="1312.5" dy="9.55">。因此，了解和分析学生情况，有针对地教对</tspan><tspan x="1312.5" dy="9.55">教学成功与否至关重要。不懂得了解学生对教</tspan><tspan x="1312.5" dy="9.55">学的重要性，只是专心研究书本，教材，想方</tspan><tspan x="1312.5" dy="9.55">设法令课堂生动，学生易接受，这是很容易碰</tspan><tspan x="1312.5" dy="9.55">钉子的。在上课前要了解清楚学生的实际情况</tspan><tspan x="1312.5" dy="9.55">：</tspan></text></g>
<g id="s2-1a"><text class="t" y="810"><tspan x="1481.6">一方面，学生英语听，说的能力相对较弱，授</tspan><tspan x="1481.6" dy="9.55">课采用较深的全英教学，同学们较难适应。另</tspan><tspan x="1481.6" dy="9.55">一方面，同学比较沉静，中等生极少，尖子生</tspan><tspan x="1481.6" dy="9.55">几乎没有。因此，讲得太深，就照顾不到整体</tspan><tspan x="1481.6" dy="9.55">，我备课时也注意到这点，因此教学效果比较</tspan><tspan x="1481.6" dy="9.55">理想。从此可以看出，了解及分析学生实际情</tspan><tspan x="1481.6" dy="9.55">况，实事求是，具体问题具体分析，做到因材</tspan><tspan x="1481.6" dy="9.55">施教，对授课效果有直接影响。这就是教育学</tspan><tspan x="1481.6" dy="9.55">中提到的"备教法的同时要备学生"。这一理论</tspan><tspan x="1481.6" dy="9.55">在我的教学实践中得到了验证。</tspan></text></g>
<g id="s2-1b"><text class="t" y="928.2"><tspan x="1481.6">教学中，备课是一个必不可少，十分重要的环</tspan><tspan x="1481.6" dy="9.55">节，备学生，又要备教法。备课不充分或者备</tspan><tspan x="1481.6" dy="9.55">得不好，会严重影响课堂气氛和积极性，因此</tspan><tspan x="1481.6" dy="9.55">，每天我都花费大量的时间在备课之上，认认</tspan><tspan x="1481.6" dy="9.55">真真钻研教材和教法，不满意就不收工。虽然</tspan><tspan x="1481.6" dy="9.55">辛苦，但事实证明是值得的。</tspan></text></g>
<g id="s2-1c"><text class="t" y="1008.6"><tspan x="1481.6">一堂准备充分的课，会令学生和老师都获益不</tspan><tspan x="1481.6" dy="9.55">浅。我认真研究了课文，找出了重点，难点，</tspan><tspan x="1481.6" dy="9.55">准备有针对性地讲。为使教学生动，不沉闷，</tspan><tspan x="1481.6" dy="9.55">我还为此准备了大量的教具，授课时就胸有成</tspan><tspan x="1481.6" dy="9.55">竹了。相反，我没有认真备课的时候，课堂气</tspan><tspan x="1481.6" dy="9.55">氛沉闷，教学效果不好，与此相比可见，认真</tspan><tspan x="1481.6" dy="9.55">备课对教学十分重要。特别是对英语这门学生</tspan><tspan x="1481.6" dy="9.55">不甚熟悉并感到困难的外语来说至关重要。</tspan></text></g>
<g id="s2-1d"><text class="t" y="1107.9"><tspan x="1481.6">备课充分，能调动学生的积极性，上课效果就</tspan><tspan x="1481.6" dy="9.55">好。但同时又要有驾驭课堂的能力，因为学生</tspan><tspan x="1481.6" dy="9.55">在课堂上的一举一动都会直接影响课堂教学。</tspan><tspan x="1481.6" dy="9.55">因此上课一定要设法令学生投入，不让其分心</tspan><tspan x="1481.6" dy="9.55">，这就很讲究方法了。上课内容丰富，现实。</tspan><tspan x="1481.6" dy="9.55">教态自然，讲课生动，难易适中照顾全部，就</tspan><tspan x="1481.6" dy="9.55">自然能够吸引住学生。所以，老师每天都要有</tspan><tspan x="1481.6" dy="9.55">充足的精神，让学生感受到一种自然气氛。这</tspan><tspan x="1481.6" dy="9.55">样，授课就事半功倍。</tspan></text></g>
<g id="s2-2"><text class="t" x="1180" y="1283.7">二、激发学生学习兴趣。</text></g>
<g id="s2-2p"><text class="t" y="1216.9"><tspan x="1282.4">英语是一门外语，对学生而言，既生疏又困难</tspan><tspan x="1282.4" dy="9.55">，在这样一种大环境之下，要教好英语，就要</tspan><tspan x="1282.4" dy="9.55">让学生喜爱英语，让他们对英语产生兴趣。否</tspan><tspan x="1282.4" dy="9.55">则学生对这门学科产生畏难情绪，不愿学，也</tspan><tspan x="1282.4" dy="9.55">无法学下去。为此，我采取了一些方法，就是</tspan><tspan x="1282.4" dy="9.55">尽量多讲一些关于英美国家的文化，生活故事</tspan><tspan x="1282.4" dy="9.55">，让他们更了解英语，更喜欢学习英语。因为</tspan><tspan x="1282.4" dy="9.55">只有英语水平提高，他们才能达到交异国笔友</tspan><tspan x="1282.4" dy="9.55">的目的，同时也可以提高同学们的英语写作能</tspan><tspan x="1282.4" dy="9.55">力，对成绩优秀的同学很有好处。因为英语的</tspan><tspan x="1282.4" dy="9.55">特殊情况，学生在不断学习中，会出现好差分</tspan><tspan x="1282.4" dy="9.55">化现象，差生面扩大，会严重影响班内的学习</tspan><tspan x="1282.4" dy="9.55">风气。因此，绝对不能忽视。为此，我制定了</tspan><tspan x="1282.4" dy="9.55">具体的计划和目标。对这部分同学进行有计划</tspan><tspan x="1282.4" dy="9.55">的辅导。</tspan></text></g>
<g id="s2-3"><text class="t" x="1180" y="1504.8">三、注重听、说、读、写全面发展。</text></g>
<g id="s2-3a"><text class="t" y="1383.3"><tspan x="1319.4">英语是语言。因此，除了课堂效果之外，还需</tspan><tspan x="1319.4" dy="9.55">要让学生多读，多讲，多练。为此，在早读时</tspan><tspan x="1319.4" dy="9.55">，我坚持下班了解早读情况，发现问题及时纠</tspan><tspan x="1319.4" dy="9.55">正。课后发现学生作业问题也及时解决，及时</tspan><tspan x="1319.4" dy="9.55">讲清楚，让学生即时消化。另外，对部分不自</tspan><tspan x="1319.4" dy="9.55">觉的同学还采取强硬背诵等方式，提高他们的</tspan><tspan x="1319.4" dy="9.55">能力。期中考和期末考是考察每位同学在本学</tspan><tspan x="1319.4" dy="9.55">期的学习成果，因此应该予以重视。考试前进</tspan><tspan x="1319.4" dy="9.55">行有系统的复习，考试后进行学科总结。在中</tspan><tspan x="1319.4" dy="9.55">段考后的时间里，我把力量主要集中在差生辅</tspan><tspan x="1319.4" dy="9.55">导上。另外，还发现学生的综合能力不够强，</tspan><tspan x="1319.4" dy="9.55">所以以后的教学中要加强这方面的训练。让学</tspan><tspan x="1319.4" dy="9.55">生轻松学，容易掌握。而期考结果证明，适当</tspan><tspan x="1319.4" dy="9.55">辅导后进生对班的整体发展有很大帮助。</tspan></text></g>
<g id="s2-3b"><text class="t" y="1540"><tspan x="1319.4">经过一个学期的努力，期末考就是一种考验。</tspan><tspan x="1319.4" dy="9.55">无论成绩高低，都体现了我在这学期的教学成</tspan><tspan x="1319.4" dy="9.55">果。我明白到这并不是最重要的，重要的是在</tspan><tspan x="1319.4" dy="9.55">本学期后如何自我提高，如何提高本班的英语</tspan><tspan x="1319.4" dy="9.55">水平。因此，无论怎样辛苦，我都会继续努力</tspan><tspan x="1319.4" dy="9.55">，多问，多想，多向别人学习，争取进步。</tspan></text></g>

<!-- 总结4 -->
<g id="s4"><text class="l" x="1051.4" y="2057.9">初三英语教学工作总结4</text></g>
<g id="s4-0"><text class="t" y="1620.4"><tspan x="1180">初三第二学期是初中阶段的最后一个学期，也</tspan><tspan x="1180" dy="9.55">是初三英语教学进入总复习阶段的关键时期，</tspan><tspan x="1180" dy="9.55">如何通过较短时间的复习，做到事半功倍，是</tspan><tspan x="1180" dy="9.55">摆在初三学生和英语教师面前紧张而艰巨的任</tspan><tspan x="1180" dy="9.55">务，也是值得我研究和讨论的问题。下面我就</tspan><tspan x="1180" dy="9.55">本学期复习过程中的所作所为以及体会与感悟</tspan><tspan x="1180" dy="9.55">粗浅地谈谈自己的一些做法和看法。</tspan></text></g>
<g id="s4-1"><text class="t" y="1709.9"><tspan x="1180">制定出一个合理的复习计划。就初中三年来说</tspan><tspan x="1180" dy="9.55">，英语教科书共有六本书(22个单元，66个话</tspan><tspan x="1180" dy="9.55">题)，语言知识点复杂，内容繁多，我想在进</tspan><tspan x="1180" dy="9.55">行总复习的过程中，我应遵循以纲为纲，以本</tspan><tspan x="1180" dy="9.55">为本的原则，以《英语课程标准》为依据，着</tspan><tspan x="1180" dy="9.55">重把握中考要求及考试范围，对《英语中考说</tspan><tspan x="1180" dy="9.55">明》要反复研究，推敲。因此，我将整个复习</tspan><tspan x="1180" dy="9.55">大致分为三个阶段。</tspan></text></g>
<g id="s4-2"><text class="t" y="1828.8"><tspan x="1180">第一阶段：让学生快速浏览初中第一至六册的</tspan><tspan x="1180" dy="9.55">课文。</tspan></text></g>
<g id="s4-2p"><text class="t" y="1810"><tspan x="1349.1">翻阅每个单元，每个话题的Grammar focus</tspan><tspan x="1349.1" dy="9.55">&amp; Useful expressions，熟记单词及重要的</tspan><tspan x="1349.1" dy="9.55">短语，词组，并将它们融入到具体句型及课文</tspan><tspan x="1349.1" dy="9.55">中一起记忆，对那些平时疏漏过的单词要重点</tspan><tspan x="1349.1" dy="9.55">记忆，同时辅以听写来检测学生是否掌握。另</tspan><tspan x="1349.1" dy="9.55">外还通过词汇互译的方法来加强学生的记忆。</tspan></text></g>
<g id="s4-3"><text class="t" x="1180" y="1942.3">第二阶段：分类复习(即专项复习)。</text></g>
<g id="s4-3p"><text class="t" y="1890.2"><tspan x="1317.2">这一阶段是要充分发挥学生的主观能动性，所</tspan><tspan x="1317.2" dy="9.55">以在此阶段我采取的方式是教师总结为辅，学</tspan><tspan x="1317.2" dy="9.55">生复习为主。所复习的内容包括冠词，名词，</tspan><tspan x="1317.2" dy="9.55">代词，数词，形容词，副词，介词，连词，助</tspan><tspan x="1317.2" dy="9.55">词，句子等。对学生已掌握的内容少讲或不讲</tspan><tspan x="1317.2" dy="9.55">，对学生不够熟练的要重点讲，每复习一个项</tspan><tspan x="1317.2" dy="9.55">目，让学生创设与知识点相关的问题，寻找专</tspan><tspan x="1317.2" dy="9.55">项练习。做到每节课复习都有复习目标，要点</tspan><tspan x="1317.2" dy="9.55">，课内追踪练习，课外巩固练习等，可以说本</tspan><tspan x="1317.2" dy="9.55">班学生是练习量最多的，做到项目有专练，人</tspan><tspan x="1317.2" dy="9.55">人有所得。通过这一阶段的复习，使学生对每</tspan><tspan x="1317.2" dy="9.55">项内容得以全面，系统地巩固和提高。</tspan></text></g>
<g id="s4-4"><text class="t" y="2461.2"><tspan x="1180">第三阶段：综合练习，主要紧扣题型，讲练结</tspan><tspan x="1180" dy="9.55">合。</tspan></text></g>
<g id="s4-g0"><text class="t" y="2027.6"><tspan x="1349.1">专项训练仅仅是就某一个知识点的单纯训练，</tspan><tspan x="1349.1" dy="9.55">在此基础上，对学生进行综合运用能力的训练</tspan><tspan x="1349.1" dy="9.55">，即有选择地进行听力，笔试为一体的成套试</tspan><tspan x="1349.1" dy="9.55">题的训练。通过对学生限时测试，使他们把所</tspan><tspan x="1349.1" dy="9.55">学的知识上升为综合运用能力，逐步适应中考</tspan><tspan x="1349.1" dy="9.55">要求。同时对各县市的质检等试卷，试题类型</tspan><tspan x="1349.1" dy="9.55">结构加以认真研究，并就每一种答题思路和方</tspan><tspan x="1349.1" dy="9.55">法加以指导，力求对不同内容采取不同方法。</tspan><tspan x="1349.1" dy="9.55">另外本人从网上筛选搜集了许多复习资料以供</tspan><tspan x="1349.1" dy="9.55">自己和初三段教师使用，从兄弟学校拿来比较</tspan><tspan x="1349.1" dy="9.55">新的模拟试卷供学生测试，真正做到资源共享</tspan><tspan x="1349.1" dy="9.55">。针对今年中考的题型逐一进行解法指导和训</tspan><tspan x="1349.1" dy="9.55">练。</tspan></text></g>
<g id="s4-g1"><text class="t" x="1349.1" y="2240.1">(一)完形填空。</text></g>
<g id="s4-g1k"><text class="t" x="1419.7" y="2174.5">做此题型从以下几个方面入手。</text><text class="t" x="1419.7" y="2207.3">(1)重视首句的开篇启示作用。</text><text class="t" x="1419.7" y="2240.1">(2)通读全文，弄懂大意。</text><text class="t" x="1419.7" y="2272.9">(3)符合短文内容，遵循语法规则。</text><text class="t" x="1419.7" y="2306.2">(4)复读全文，核定答案。</text></g>
<g id="s4-g2"><text class="t" x="1349.1" y="2409.5">(二)阅读理解。</text></g>
<g id="s4-g2k"><text class="t" x="1419.7" y="2338.6">解答这类题目，一般采用三个步骤。</text><text class="t" y="2371.8"><tspan x="1419.7">(1)首先通读全文，迅速抓住文章内容，在不</tspan><tspan x="1419.7" dy="9.55">影响理解的前提下，尽可能快速阅读，并重抓</tspan><tspan x="1419.7" dy="9.55">住主要信息。</tspan></text><text class="t" y="2423.5"><tspan x="1419.7">(2)阅读短文后的选择题，包括题干和选择项</tspan><tspan x="1419.7" dy="9.55">，明确问题的要求后，再细读全文或有关段落</tspan><tspan x="1419.7" dy="9.55">，最后选定答案。</tspan></text><text class="t" y="2475.2"><tspan x="1419.7">(3)答完一篇短文的全部题目后，再把短文读</tspan><tspan x="1419.7" dy="9.55">一遍，逐一核对答案。</tspan></text></g>
<g id="s4-g3"><text class="t" x="1349.1" y="2600.1">(三)任务型阅读。</text></g>
<g id="s4-g3k"><text class="t" y="2517.3"><tspan x="1427.1">根据任务型阅读的题型，我指导学生采用以下</tspan><tspan x="1427.1" dy="9.55">解题思路</tspan></text><text class="t" x="1427.1" y="2559.9">(1)认真审题，读懂题意。</text><text class="t" x="1427.1" y="2592.4">(2)快速阅读，掌握题意。</text><text class="t" x="1427.1" y="2625.2">(3)细读题目，完成任务。</text><text class="t" x="1427.1" y="2677.3">(4)复读文章，核实任务。</text></g>
<g id="s4-g3p"><text class="t" y="2658"><tspan x="1531.7">针对以上三种题型，我在课堂上要求学生掌握</tspan><tspan x="1531.7" dy="9.55">了每种解题思路后都要按照这种原则，步骤去</tspan><tspan x="1531.7" dy="9.55">解题，慢慢适应解题方法，并在课堂练习中针</tspan><tspan x="1531.7" dy="9.55">对练习详细讲解为什么要这样做，如：为什么</tspan><tspan x="1531.7" dy="9.55">要瞻前顾后，通过例子加以说明等。</tspan></text></g>
<g id="s4-g4"><text class="t" x="1349.1" y="2748.2">(四)书面表达题：</text></g>
<g id="s4-g4p"><text class="t" y="2729"><tspan x="1427.1">多以材料作文为主，除了认真审题，端正书写</tspan><tspan x="1427.1" dy="9.55">等常规性的训练以外，平时让学生多写作文，</tspan><tspan x="1427.1" dy="9.55">我及时批改以及及时反馈，让学生从自己的作</tspan><tspan x="1427.1" dy="9.55">文中发现错误，改正错误，总结错误，以此提</tspan><tspan x="1427.1" dy="9.55">高其书面表达能力。</tspan></text></g>
<g id="s4-g5"><text class="t" x="1349.1" y="2847.5">(五)听力题：</text></g>
<g id="s4-g5k"><text class="t" y="2799.9"><tspan x="1412.3">在中考前的一个月，加强训练，做到每天都有</tspan><tspan x="1412.3" dy="9.55">听力练习，以便提高听力应试能力。本人利用</tspan><tspan x="1412.3" dy="9.55">有效的听力资料要求学生每天进行听力训练，</tspan><tspan x="1412.3" dy="9.55">收到了比较好的效果。</tspan></text><text class="t" y="2861.5"><tspan x="1412.3">总之，对于每一节复习课都有听，说，读，写</tspan><tspan x="1412.3" dy="9.55">的训练，把课堂作为复习的场所，学生作为复</tspan><tspan x="1412.3" dy="9.55">习的主体，我自己则作为复习的指挥棒，同时</tspan><tspan x="1412.3" dy="9.55">充分利用现代化教学手段，加大训练量，节省</tspan><tspan x="1412.3" dy="9.55">时间，以便全面提高教学质量。</tspan></text></g>

<!-- 总结6 -->
<g id="s6"><text class="l" x="1051.4" y="3160.6">初三英语教学工作总结6</text></g>
<g id="s6-p"><text class="t" y="3136.7"><tspan x="1180">临近年末，我圆满地完成了本学期的工作，回</tspan><tspan x="1180" dy="9.55">顾这学期的工作，使我感到既繁忙又充实，我</tspan><tspan x="1180" dy="9.55">的教学思想和教学水平都得到了很大的提高，</tspan><tspan x="1180" dy="9.55">并取得了一些成绩。但也存在不足，为了使我</tspan><tspan x="1180" dy="9.55">在今后的教育教学工作中取得更大的进步。下</tspan><tspan x="1180" dy="9.55">面我将这一学期的工作总结如下：</tspan></text></g>
<g id="s6-1"><text class="t" x="1349.1" y="2970.2">一、思想政治方面</text></g>
<g id="s6-1p"><text class="t" y="2932"><tspan x="1429.7">在这学期的教学工作中,我自始至终以认真、</tspan><tspan x="1429.7" dy="9.55">严谨的工作态度，勤恳、坚持不懈的工作精神</tspan><tspan x="1429.7" dy="9.55">从事英语教学。我积极响应学校的各项号召，</tspan><tspan x="1429.7" dy="9.55">积极参加政治学习，认真领会学习内容，以教</tspan><tspan x="1429.7" dy="9.55">师职业道德规范为准绳，严格要求自己。思想</tspan><tspan x="1429.7" dy="9.55">积极向上，要求进步。在教学中，能够做到为</tspan><tspan x="1429.7" dy="9.55">人师表，关爱学生，帮助学生对英语学习充满</tspan><tspan x="1429.7" dy="9.55">学习热情和信心，以健康文明的形象言传身教</tspan><tspan x="1429.7" dy="9.55">。</tspan></text></g>
<g id="s6-2"><text class="t" x="1349.1" y="3093.6">二、业务素质方面</text></g>
<g id="s6-2p"><text class="t" y="3041.1"><tspan x="1429.7">为了适应课改的需要，我不断地钻研新的教学</tspan><tspan x="1429.7" dy="9.55">理念，探索新的教学方法，不断将自己的所学</tspan><tspan x="1429.7" dy="9.55">运用到课堂教学之中，并取得了很好的教学效</tspan><tspan x="1429.7" dy="9.55">果，多次在市、校做英语教学设计课，受到了</tspan><tspan x="1429.7" dy="9.55">一致的好评。我积极参加学校组织的业务学习</tspan><tspan x="1429.7" dy="9.55">和市里组织的各项英语培训，认真学习，领会</tspan><tspan x="1429.7" dy="9.55">其精神实质，学习先进的教学理念、教学方法</tspan><tspan x="1429.7" dy="9.55">。并积极与我校的其他英语教师研究教材、教</tspan><tspan x="1429.7" dy="9.55">法，同时，对她们在教学中感到疑惑不解的地</tspan><tspan x="1429.7" dy="9.55">方，我也能毫不保留地发表自己的见解，以此</tspan><tspan x="1429.7" dy="9.55">来共同提高业务水平。假期，我还认真学习英</tspan><tspan x="1429.7" dy="9.55">语专业，使自己能够切实提高专业水平。</tspan></text></g>
<g id="s6-3"><text class="t" x="1349.1" y="3350.3">三、教育教学工作方面</text></g>
<g id="s6-3a"><text class="t" y="3178.8"><tspan x="1444.5">这学期我担任的是初三(4)班的英语教学。经</tspan><tspan x="1444.5" dy="9.55">验告诉我，对于这个年段的英语教学(教学内</tspan><tspan x="1444.5" dy="9.55">容多，语法点多)，如果不认真研究教法和学</tspan><tspan x="1444.5" dy="9.55">法，结合教材和学生的实际情况来教学，就会</tspan><tspan x="1444.5" dy="9.55">使学生失去对英语学习的兴趣。兴趣没了，英</tspan><tspan x="1444.5" dy="9.55">语自然也不会学好。因此，我对教学工作不敢</tspan><tspan x="1444.5" dy="9.55">怠慢，认真学习，勤于专研，注重在实践中积</tspan><tspan x="1444.5" dy="9.55">极探索新的教学方式，潜心研究英语课堂教学</tspan><tspan x="1444.5" dy="9.55">，深刻领会新课改的理念，注重激发和培养学</tspan><tspan x="1444.5" dy="9.55">生学习英语的兴趣，自制教具，开展英语特长</tspan><tspan x="1444.5" dy="9.55">活动等，使学生在轻松、愉快的氛围中学习和</tspan><tspan x="1444.5" dy="9.55">运用语言，树立学习英语的自信心，注重形成</tspan><tspan x="1444.5" dy="9.55">性评价在英语教学中的运用，并能够及时总结</tspan><tspan x="1444.5" dy="9.55">经验，提高自己的科研水平。由于课堂教学扎</tspan><tspan x="1444.5" dy="9.55">实有效，形成了独特的教学风格，多次为市英</tspan><tspan x="1444.5" dy="9.55">语学科做教学研究课。在开展教研活动时，我</tspan><tspan x="1444.5" dy="9.55">积极出课，毫不保留，并主动带动其他英语教</tspan><tspan x="1444.5" dy="9.55">师成长，受到了领导的好评。由于自己不懈地</tspan><tspan x="1444.5" dy="9.55">努力，加之校领导的支持与帮助上。这学期，</tspan><tspan x="1444.5" dy="9.55">我教的学生英语学习成绩仍然很好，今后，我</tspan><tspan x="1444.5" dy="9.55">要更加努力，使这个班的英语水平再提高一个</tspan><tspan x="1444.5" dy="9.55">档次。</tspan></text></g>
<g id="s6-3b"><text class="t" y="3411.4"><tspan x="1444.5">总之，在今后的工作中，我会更加努力学习，</tspan><tspan x="1444.5" dy="9.55">提高自身素质，严格要求自己，完善自我，以</tspan><tspan x="1444.5" dy="9.55">百倍的信心与努力去迎接未来的挑战。</tspan></text></g>

<!-- 相关文章 -->
<g id="rel"><text class="l" x="1051.4" y="3611.9">初三英语教学工作总结相关文章：</text></g>
<g id="rel-items">
<text class="t" x="1222.7" y="3463.5">★ 初中英语教师的工作总结范文10篇</text>
<text class="t" x="1222.7" y="3496.3">★ 初中英语教师教学工作总结5篇</text>
<text class="t" x="1222.7" y="3529.1">★ 英语初中教学工作总结2021</text>
<text class="t" x="1222.7" y="3561.9">★ 初中英语工作教学总结2021</text>
<text class="t" x="1222.7" y="3594.7">★ 英语教师备课教学工作总结7篇</text>
<text class="t" x="1222.7" y="3627.5">★ 中学英语教师工作总结范文5篇</text>
<text class="t" x="1222.7" y="3660.3">★ 英语学科教学总结初中2021</text>
<text class="t" x="1222.7" y="3693.1">★ 2021新课标初中英语教学总结</text>
<text class="t" x="1222.7" y="3725.9">★ 英语初中教学经验总结2021</text>
<text class="t" x="1222.7" y="3758.7">★ 英语教学工作梳理总结7篇</text>
</g>
</svg>
